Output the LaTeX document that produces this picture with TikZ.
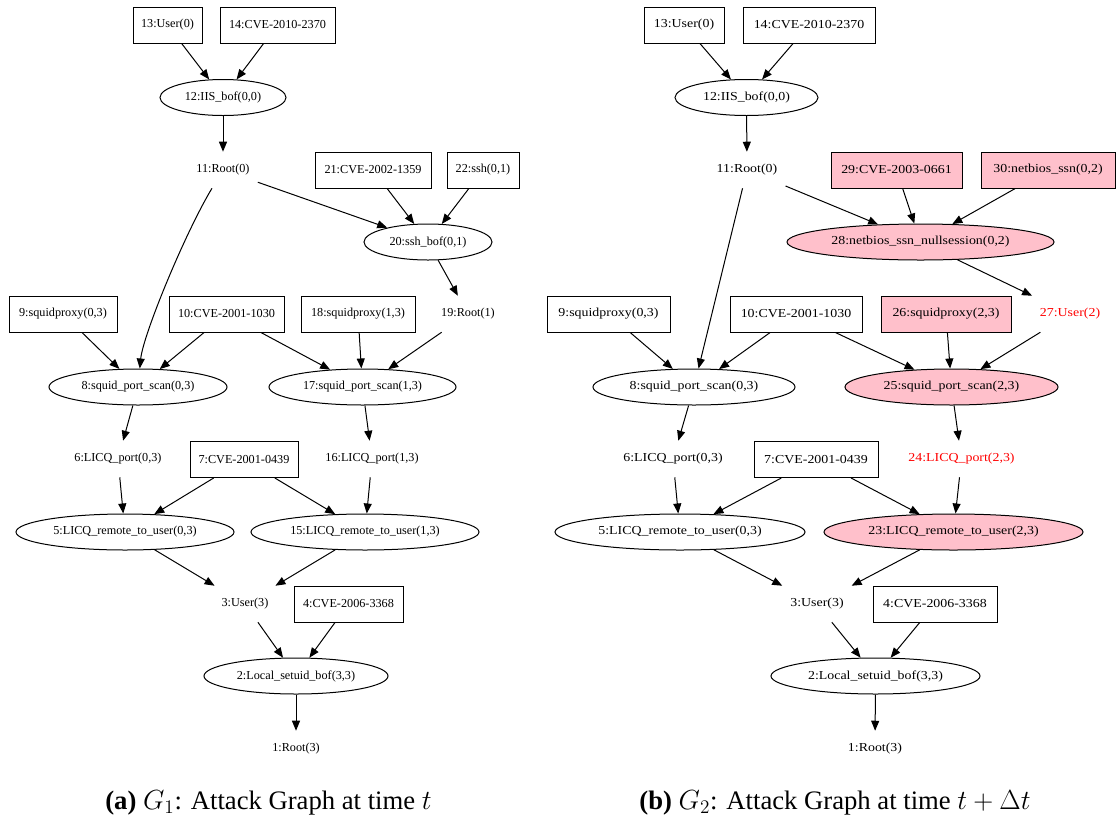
\documentclass[tikz,border=0pt]{standalone}
\usepackage[no-math]{fontspec}
\setmainfont{Liberation Serif}
\newfontfamily\widefont{Liberation Serif}[FakeStretch=1.14]
\usetikzlibrary{shapes.geometric,arrows.meta}
\definecolor{hotpink}{HTML}{FFC0CB}
\definecolor{newred}{HTML}{FF0000}
\begin{document}
\begin{tikzpicture}[x=0.75pt,y=-0.75pt,
  every node/.style={font=\fontsize{9.15}{11}\selectfont, inner sep=0pt, minimum height=27pt},
  wide/.style={font=\fontsize{9.15}{11}\selectfont\widefont},
  wd/.style={minimum width=#1*0.75pt},
  box/.style={draw, rectangle, line width=0.75pt},
  oval/.style={draw, ellipse, line width=0.75pt},
  lbl/.style={rectangle, inner xsep=6pt},
  hot/.style={fill=hotpink},
  newtxt/.style={text=newred},
  edge/.style={-{Triangle[length=7.5pt,width=6pt]}, line width=0.75pt},
  caption/.style={font=\fontsize{20}{24}\selectfont, minimum height=0pt, anchor=base},
]
\useasboundingbox (0,0) rectangle (1117,818);

% ---------- G1 ----------
\node[box, wd=69]  (a13) at (167.5,25) {13:User(0)};
\node[box, wd=115] (a14) at (277.5,25) {14:CVE-2010-2370};
\node[oval, wd=126] (a12) at (223,97.5) {12:IIS\_bof(0,0)};
\node[lbl] (a11) at (223,170) {11:Root(0)};
\node[box, wd=116] (a21) at (373,170) {21:CVE-2002-1359};
\node[box, wd=72]  (a22) at (483,170) {22:ssh(0,1)};
\node[oval, wd=128] (a20) at (428,242) {20:ssh\_bof(0,1)};
\node[lbl] (a19) at (468,314) {19:Root(1)};
\node[box, wd=108] (a9)  at (63,314) {9:squidproxy(0,3)};
\node[box, wd=115] (a10) at (226.5,314) {10:CVE-2001-1030};
\node[box, wd=114] (a18) at (358,314) {18:squidproxy(1,3)};
\node[oval, wd=178] (a8)  at (138,387) {8:squid\_port\_scan(0,3)};
\node[oval, wd=187] (a17) at (362.5,387) {17:squid\_port\_scan(1,3)};
\node[lbl] (a6) at (118,459) {6:LICQ\_port(0,3)};
\node[box, wd=108] (a7) at (244,459.5) {7:CVE-2001-0439};
\node[lbl] (a16) at (372,459) {16:LICQ\_port(1,3)};
\node[oval, wd=218] (a5)  at (125,532) {5:LICQ\_remote\_to\_user(0,3)};
\node[oval, wd=228] (a15) at (365,532) {15:LICQ\_remote\_to\_user(1,3)};
\node[lbl] (a3) at (245,604) {3:User(3)};
\node[box, wd=109] (a4) at (348.5,604) {4:CVE-2006-3368};
\node[oval, wd=184] (a2) at (296,676) {2:Local\_setuid\_bof(3,3)};
\node[lbl] (a1) at (296,749) {1:Root(3)};

\draw[edge] (a13) -- (a12);
\draw[edge] (a14) -- (a12);
\draw[edge] (a12) -- (a11);
\draw[edge] (a11) -- (a20);
\draw[edge] (a11) .. controls (185,233) and (143,335) .. (a8);
\draw[edge] (a21) -- (a20);
\draw[edge] (a22) -- (a20);
\draw[edge] (a20) -- (a19);
\draw[edge] (a9) -- (a8);
\draw[edge] (a10) -- (a8);
\draw[edge] (a10) -- (a17);
\draw[edge] (a18) -- (a17);
\draw[edge] (a19) -- (a17);
\draw[edge] (a8) -- (a6);
\draw[edge] (a17) -- (a16);
\draw[edge] (a6) -- (a5);
\draw[edge] (a7) -- (a5);
\draw[edge] (a7) -- (a15);
\draw[edge] (a16) -- (a15);
\draw[edge] (a5) -- (a3);
\draw[edge] (a15) -- (a3);
\draw[edge] (a3) -- (a2);
\draw[edge] (a4) -- (a2);
\draw[edge] (a2) -- (a1);

\node[caption] (capa) at (268.5,809) {\textbf{(a)} $G_1$: Attack Graph at time $t$};

% ---------- G2 ----------
\node[box, wide, wd=80]  (b13) at (684,25) {13:User(0)};
\node[box, wide, wd=132] (b14) at (809,25) {14:CVE-2010-2370};
\node[oval, wide, wd=143] (b12) at (746.5,97.5) {12:IIS\_bof(0,0)};
\node[lbl, wide] (b11) at (747,170) {11:Root(0)};
\node[box, wide, hot, wd=131] (b29) at (896.5,170) {29:CVE-2003-0661};
\node[box, wide, hot, wd=134] (b30) at (1048,170) {30:netbios\_ssn(0,2)};
\node[oval, wide, hot, wd=267] (b28) at (920.5,242) {28:netbios\_ssn\_nullsession(0,2)};
\node[box, wide, wd=123] (b9)  at (608.5,314) {9:squidproxy(0,3)};
\node[box, wide, wd=132] (b10) at (796,314) {10:CVE-2001-1030};
\node[box, wide, hot, wd=130] (b26) at (946,314) {26:squidproxy(2,3)};
\node[lbl, wide, newtxt] (b27) at (1070,314) {27:User(2)};
\node[oval, wide, wd=202] (b8) at (694,387) {8:squid\_port\_scan(0,3)};
\node[oval, wide, hot, wd=213] (b25) at (951.5,387) {25:squid\_port\_scan(2,3)};
\node[lbl, wide] (b6) at (673,459) {6:LICQ\_port(0,3)};
\node[box, wide, wd=124] (b7) at (816,459.5) {7:CVE-2001-0439};
\node[lbl, wide, newtxt] (b24) at (961.5,459) {24:LICQ\_port(2,3)};
\node[oval, wide, wd=250] (b5) at (680,532) {5:LICQ\_remote\_to\_user(0,3)};
\node[oval, wide, hot, wd=259] (b23) at (953.5,532) {23:LICQ\_remote\_to\_user(2,3)};
\node[lbl, wide] (b3) at (817,604) {3:User(3)};
\node[box, wide, wd=124] (b4) at (935,604) {4:CVE-2006-3368};
\node[oval, wide, wd=209] (b2) at (875.5,676) {2:Local\_setuid\_bof(3,3)};
\node[lbl, wide] (b1) at (875,749) {1:Root(3)};

\draw[edge] (b13) -- (b12);
\draw[edge] (b14) -- (b12);
\draw[edge] (b12) -- (b11);
\draw[edge] (b11) -- (b8);
\draw[edge] (b11) -- (b28);
\draw[edge] (b29) -- (b28);
\draw[edge] (b30) -- (b28);
\draw[edge] (b28) -- (b27);
\draw[edge] (b9) -- (b8);
\draw[edge] (b10) -- (b8);
\draw[edge] (b10) -- (b25);
\draw[edge] (b26) -- (b25);
\draw[edge] (b27) -- (b25);
\draw[edge] (b8) -- (b6);
\draw[edge] (b25) -- (b24);
\draw[edge] (b6) -- (b5);
\draw[edge] (b7) -- (b5);
\draw[edge] (b7) -- (b23);
\draw[edge] (b24) -- (b23);
\draw[edge] (b5) -- (b3);
\draw[edge] (b23) -- (b3);
\draw[edge] (b3) -- (b2);
\draw[edge] (b4) -- (b2);
\draw[edge] (b2) -- (b1);

\node[caption] (capb) at (835,809) {\textbf{(b)} $G_2$: Attack Graph at time $t+\Delta t$};
\end{tikzpicture}
\end{document}
